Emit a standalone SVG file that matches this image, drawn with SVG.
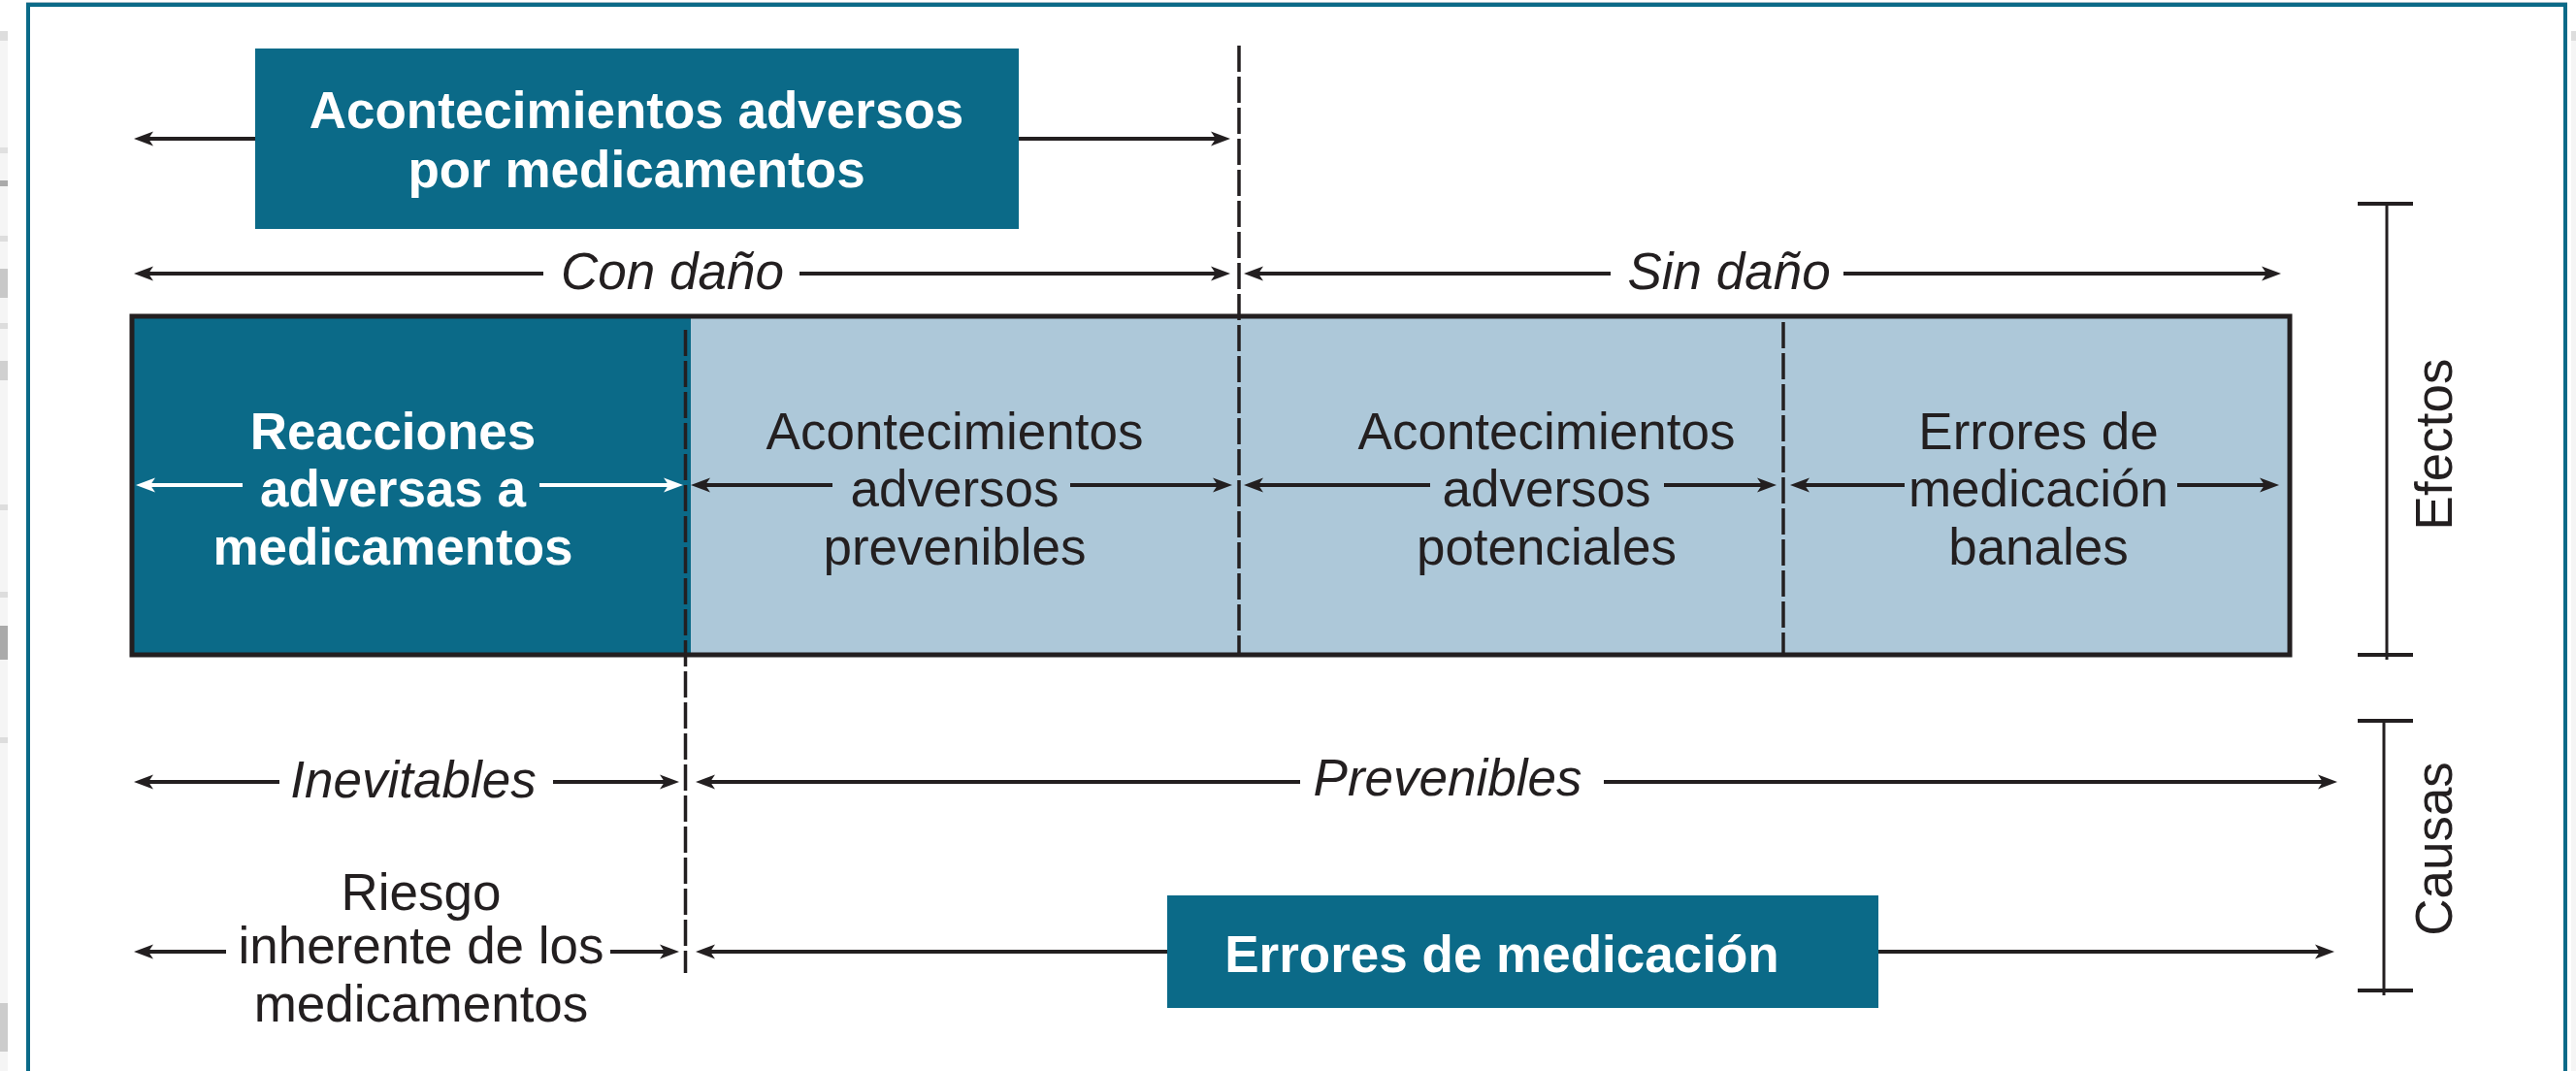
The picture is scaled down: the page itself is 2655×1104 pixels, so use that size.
<svg xmlns="http://www.w3.org/2000/svg" width="2655" height="1104" viewBox="0 0 2655 1104">
<style>
.t{font-family:"Liberation Sans",Arial,sans-serif;font-size:53px;fill:#231f20;text-anchor:middle}
.b{font-weight:bold;fill:#ffffff}
.i{font-style:italic}
.ln{stroke:#231f20;stroke-width:4;fill:none}
.wl{stroke:#ffffff;stroke-width:4;fill:none}
.dash{stroke:#231f20;stroke-width:3.5;stroke-dasharray:27 5;fill:none}
.teal{fill:#0b6a88}
.light{fill:#adc8d9}
</style>
<defs>
<marker id="ab" viewBox="-14 -9 24 18" refX="0" refY="0" markerWidth="24" markerHeight="18" markerUnits="userSpaceOnUse" orient="auto-start-reverse">
<path d="M8,0 L-12,-7.5 L-7,0 L-12,7.5 Z" fill="#231f20"/>
</marker>
<marker id="aw" viewBox="-14 -9 24 18" refX="0" refY="0" markerWidth="24" markerHeight="18" markerUnits="userSpaceOnUse" orient="auto-start-reverse">
<path d="M8,0 L-12,-7.5 L-7,0 L-12,7.5 Z" fill="#ffffff"/>
</marker>
</defs>
<rect x="0" y="0" width="2655" height="1104" fill="#ffffff"/>
<g id="scan-edges">
<rect x="0" y="32" width="8" height="1072" fill="#f5f5f5"/>
<rect x="0" y="32" width="8" height="10" fill="#dddddd"/>
<rect x="0" y="152" width="8" height="6" fill="#e0e0e0"/>
<rect x="0" y="186" width="8" height="6" fill="#aaaaaa"/>
<rect x="0" y="243" width="8" height="6" fill="#dddddd"/>
<rect x="0" y="277" width="8" height="30" fill="#c8c8c8"/>
<rect x="0" y="333" width="8" height="6" fill="#dddddd"/>
<rect x="0" y="372" width="8" height="20" fill="#d0d0d0"/>
<rect x="0" y="520" width="8" height="6" fill="#dddddd"/>
<rect x="0" y="610" width="8" height="6" fill="#dddddd"/>
<rect x="0" y="645" width="8" height="35" fill="#aaaaaa"/>
<rect x="0" y="760" width="8" height="6" fill="#dddddd"/>
<rect x="0" y="1034" width="8" height="50" fill="#cccccc"/>
<rect x="2650" y="32" width="5" height="1072" fill="#f5f5f5"/>
<rect x="2650" y="32" width="5" height="10" fill="#dddddd"/>
</g>
<g id="frame">
<rect x="27" y="2" width="2619" height="1.5" fill="#9fbac6"/>
<rect x="27" y="3" width="2619" height="4" fill="#0b6a88"/>
<rect x="27" y="3" width="4" height="1101" fill="#0b6a88"/>
<rect x="2642" y="3" width="4" height="1101" fill="#0b6a88"/>
</g>
<g id="band">
<rect class="light" x="136" y="326" width="2224" height="349"/>
<rect class="teal" x="136" y="326" width="576" height="349"/>
</g>
<g id="dividers">
<line class="dash" x1="1277" y1="47" x2="1277" y2="675"/>
<line class="dash" x1="706.5" y1="340" x2="706.5" y2="1003"/>
<line class="dash" x1="1838" y1="332" x2="1838" y2="675"/>
</g>
<g id="connectors">
<line class="ln" x1="146" y1="143" x2="1260" y2="143" marker-start="url(#ab)" marker-end="url(#ab)"/>
<line class="ln" x1="146" y1="282" x2="560" y2="282" marker-start="url(#ab)"/>
<line class="ln" x1="824" y1="282" x2="1260" y2="282" marker-end="url(#ab)"/>
<line class="ln" x1="1290" y1="282" x2="1660" y2="282" marker-start="url(#ab)"/>
<line class="ln" x1="1900" y1="282" x2="2343" y2="282" marker-end="url(#ab)"/>
<line class="wl" x1="148" y1="500" x2="250" y2="500" marker-start="url(#aw)"/>
<line class="wl" x1="556" y1="500" x2="696" y2="500" marker-end="url(#aw)"/>
<line class="ln" x1="720" y1="500" x2="858" y2="500" marker-start="url(#ab)"/>
<line class="ln" x1="1103" y1="500" x2="1262" y2="500" marker-end="url(#ab)"/>
<line class="ln" x1="1290" y1="500" x2="1474" y2="500" marker-start="url(#ab)"/>
<line class="ln" x1="1715" y1="500" x2="1823" y2="500" marker-end="url(#ab)"/>
<line class="ln" x1="1853" y1="500" x2="1963" y2="500" marker-start="url(#ab)"/>
<line class="ln" x1="2244" y1="500" x2="2341" y2="500" marker-end="url(#ab)"/>
<line class="ln" x1="146" y1="806" x2="288" y2="806" marker-start="url(#ab)"/>
<line class="ln" x1="570" y1="806" x2="692" y2="806" marker-end="url(#ab)"/>
<line class="ln" x1="725" y1="806" x2="1340" y2="806" marker-start="url(#ab)"/>
<line class="ln" x1="1653" y1="806" x2="2401" y2="806" marker-end="url(#ab)"/>
<line class="ln" x1="146" y1="981" x2="233" y2="981" marker-start="url(#ab)"/>
<line class="ln" x1="629" y1="981" x2="692" y2="981" marker-end="url(#ab)"/>
<line class="ln" x1="725" y1="981" x2="1210" y2="981" marker-start="url(#ab)"/>
<line class="ln" x1="1930" y1="981" x2="2398" y2="981" marker-end="url(#ab)"/>
</g>
<g id="node-adm">
<rect class="teal" x="263" y="50" width="787" height="186"/>
<text class="t b" x="656" y="132">Acontecimientos adversos</text>
<text class="t b" x="656" y="193">por medicamentos</text>
</g>
<g id="label-con-dano"><text class="t i" x="693" y="298">Con daño</text></g>
<g id="label-sin-dano"><text class="t i" x="1782" y="298">Sin daño</text></g>
<g id="node-ram">
<text class="t b" x="405" y="463">Reacciones</text>
<text class="t b" x="405" y="522">adversas a</text>
<text class="t b" x="405" y="582">medicamentos</text>
</g>
<g id="node-aa-prev">
<text class="t" x="984" y="463">Acontecimientos</text>
<text class="t" x="984" y="522">adversos</text>
<text class="t" x="984" y="582">prevenibles</text>
</g>
<g id="node-aa-pot">
<text class="t" x="1594" y="463">Acontecimientos</text>
<text class="t" x="1594" y="522">adversos</text>
<text class="t" x="1594" y="582">potenciales</text>
</g>
<g id="node-em-banales">
<text class="t" x="2101" y="463">Errores de</text>
<text class="t" x="2101" y="522">medicación</text>
<text class="t" x="2101" y="582">banales</text>
</g>
<g id="band-border">
<rect x="136" y="326" width="2224" height="349" fill="none" stroke="#231f20" stroke-width="5"/>
</g>
<g id="label-inevitables"><text class="t i" x="426" y="822">Inevitables</text></g>
<g id="label-prevenibles"><text class="t i" x="1492" y="820">Prevenibles</text></g>
<g id="node-riesgo">
<text class="t" x="434" y="938">Riesgo</text>
<text class="t" x="434" y="993">inherente de los</text>
<text class="t" x="434" y="1053">medicamentos</text>
</g>
<g id="node-em">
<rect class="teal" x="1203" y="923" width="733" height="116"/>
<text class="t b" x="1548" y="1002">Errores de medicación</text>
</g>
<g id="bracket-efectos">
<line class="ln" x1="2460" y1="210" x2="2460" y2="680" style="stroke-width:3"/>
<line class="ln" x1="2430" y1="210" x2="2487" y2="210"/>
<line class="ln" x1="2430" y1="675" x2="2487" y2="675"/>
<text class="t" transform="translate(2527 458) rotate(-90)">Efectos</text>
</g>
<g id="bracket-causas">
<line class="ln" x1="2457" y1="743" x2="2457" y2="1026" style="stroke-width:3"/>
<line class="ln" x1="2430" y1="743" x2="2487" y2="743"/>
<line class="ln" x1="2430" y1="1021" x2="2487" y2="1021"/>
<text class="t" transform="translate(2527 875) rotate(-90)">Causas</text>
</g>
</svg>
